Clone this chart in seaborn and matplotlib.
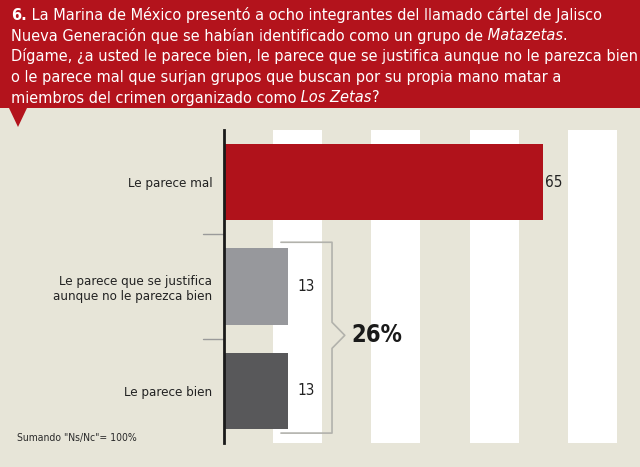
import matplotlib
matplotlib.use('Agg')
import matplotlib.pyplot as plt
from matplotlib.patches import Rectangle, Polygon
import seaborn as sns
import pandas as pd

# Datos de la encuesta
categorias = ['Le parece mal',
              'Le parece que se justifica\naunque no le parezca bien',
              'Le parece bien']
valores = [65, 13, 13]
colores = ['#b0121b', '#97989c', '#58585a']
etiqueta_suma = '26%'
nota = 'Sumando "Ns/Nc"= 100%'
franjas = [(10, 20), (30, 40), (50, 60), (70, 80)]

titulo = [
    [('6.', 'bold'), (' La Marina de México presentó a ocho integrantes del llamado cártel de Jalisco', 'normal')],
    [('Nueva Generación que se habían identificado como un grupo de', 'normal'), (' Matazetas', 'italic'), ('.', 'normal')],
    [('Dígame, ¿a usted le parece bien, le parece que se justifica aunque no le parezca bien', 'normal')],
    [('o le parece mal que surjan grupos que buscan por su propia mano matar a', 'normal')],
    [('miembros del crimen organizado como', 'normal'), (' Los Zetas', 'italic'), ('?', 'normal')],
]

W, H = 640, 467
FONDO = '#e7e5d8'
ROJO = '#b3131c'

sns.set_theme(style='white')
plt.rcParams['font.family'] = ['DejaVu Sans']
plt.rcParams['font.stretch'] = 'condensed'

fig = plt.figure(figsize=(W / 100, H / 100), dpi=100, facecolor=FONDO)
renderer = fig.canvas.get_renderer()


def ancho(txt, size, **kw):
    t = fig.text(0, 0, txt, fontsize=size, **kw)
    w = t.get_window_extent(renderer).width
    t.remove()
    return w


# Encabezado rojo con la pregunta
fig.patches.append(Rectangle((0, 1 - 108 / H), 1, 108 / H, transform=fig.transFigure,
                             facecolor=ROJO, edgecolor='none'))
fig.patches.append(Polygon([(9 / W, 1 - 108 / H), (27 / W, 1 - 108 / H), (18 / W, 1 - 127 / H)],
                           closed=True, transform=fig.transFigure, facecolor=ROJO, edgecolor='none'))

# tamano del titulo ajustado para que la linea mas larga ocupe ~625 px
tam_titulo = 13.5 * 625 / ancho(titulo[2][0][0], 13.5)


def linea_titulo(segmentos, y_px, size):
    x = 11
    for txt, estilo in segmentos:
        t = fig.text(x / W, 1 - y_px / H, txt, color='white', fontsize=size,
                     fontweight='bold' if estilo == 'bold' else 'normal',
                     fontstyle='italic' if estilo == 'italic' else 'normal',
                     ha='left', va='center')
        x += t.get_window_extent(renderer).width


for i, seg in enumerate(titulo):
    linea_titulo(seg, 15 + i * 20.75, tam_titulo)

# Grafica de barras
ax = fig.add_axes([224 / W, 1 - 443 / H, (W - 224) / W, (443 - 130) / H])
ax.set_facecolor('none')

df = pd.DataFrame({'categoria': categorias, 'valor': valores})
sns.barplot(data=df, x='valor', y='categoria', hue='categoria', palette=colores,
            saturation=1, width=0.73, legend=False, ax=ax, zorder=2, linewidth=0)

for a, b in franjas:
    ax.axvspan(a, b, color='white', zorder=0, lw=0)

ax.set_xlim(0, (W - 224) / 4.91)
ax.set_ylim(2.5, -0.5)
ax.set_xlabel('')
ax.set_ylabel('')
ax.set_xticks([])
for lado in ['top', 'right', 'bottom']:
    ax.spines[lado].set_visible(False)
ax.spines['left'].set_color('#1a1a1a')
ax.spines['left'].set_linewidth(2)

# etiquetas de categoria: la linea mas larga mide ~159 px en el original
tam_cat = 11.5 * 159 / ancho('aunque no le parezca bien', 11.5)
ax.tick_params(axis='y', length=0, pad=8.5, labelsize=tam_cat, labelcolor='#222222')
for lbl in ax.get_yticklabels():
    lbl.set_linespacing(1.2)

# Valores
desplaz = [1.5, 7, 7]
for i, v in enumerate(valores):
    ax.annotate(str(v), (v, i), xytext=(desplaz[i], 0), textcoords='offset points',
                ha='left', va='center', fontsize=11, color='#222222')

# Separadores a la izquierda del eje
for y in [0.5, 1.5]:
    ax.plot([-4.3, 0], [y, y], color='#9a9a9a', lw=1, clip_on=False)

# Llave que agrupa las dos barras pequenas
ax.plot([11.6, 22.0, 22.0, 24.6, 22.0, 22.0, 11.6],
        [0.576, 0.576, 1.343, 1.468, 1.593, 2.405, 2.405],
        color='#b2b2ac', lw=1.2, clip_on=False, zorder=3)
ax.text(25.9, 1.468, etiqueta_suma, ha='left', va='center', fontsize=17,
        fontweight='bold', color='#1a1a1a')

tam_nota = 10 * 121 / ancho(nota, 10)
fig.text(17 / W, 1 - 438 / H, nota, ha='left', va='center', fontsize=tam_nota, color='#2a2a2a')

fig.savefig('out.png', dpi=100, facecolor=FONDO)
